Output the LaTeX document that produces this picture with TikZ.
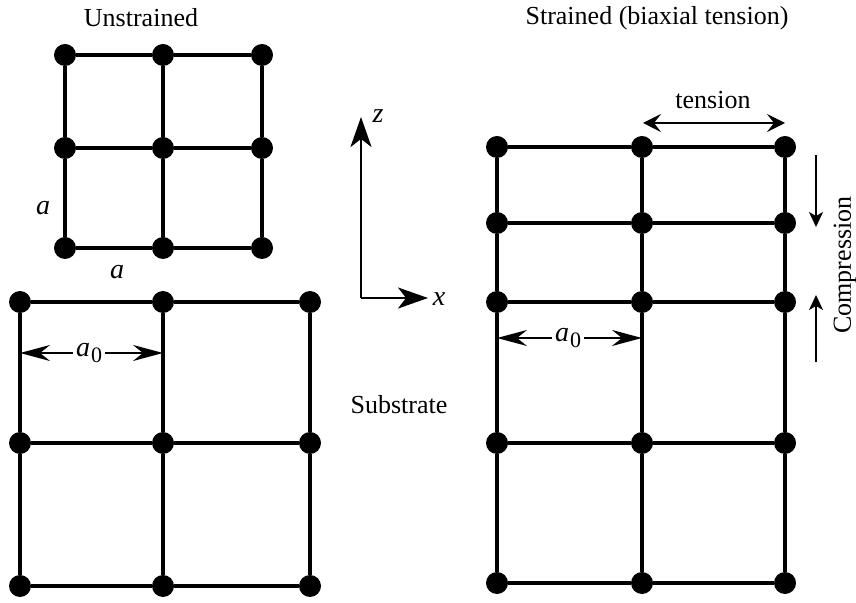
\documentclass[tikz,border=0pt]{standalone}
\usepackage{fontspec}
\setmainfont{Liberation Serif}
\usetikzlibrary{arrows.meta}
\begin{document}
\begin{tikzpicture}[x=0.5pt,y=-0.5pt,
  dot/.style={circle,fill=black,inner sep=0pt,minimum size=11pt},
  gridline/.style={line width=1.6pt},
  lbl/.style={font=\fontsize{13}{15}\selectfont, inner sep=1pt},
  ital/.style={font=\fontsize{14}{16}\selectfont\itshape, inner sep=1.5pt},
  axisarrow/.style={line width=1.2pt,-{Stealth[length=15pt,width=10.5pt,inset=4pt]}},
  dimarrow/.style={line width=0.9pt,-{Stealth[length=15pt,width=8pt,inset=5pt]}},
  tensarrow/.style={line width=0.9pt,{Stealth[length=9pt,width=9pt,inset=3.5pt]}-{Stealth[length=9pt,width=9pt,inset=3.5pt]}},
  comparrow/.style={line width=0.8pt,-{Stealth[length=7.5pt,width=7pt,inset=2pt]}}]
\useasboundingbox (0,0) rectangle (856,603);

% Unstrained lattice
\foreach \r/\y in {1/55,2/148,3/248}
  \foreach \c/\x in {1/65,2/163,3/262}
    \node[dot] (u\r\c) at (\x,\y) {};
\foreach \r in {1,2,3} \draw[gridline] (u\r1) -- (u\r2) -- (u\r3);
\foreach \c in {1,2,3} \draw[gridline] (u1\c) -- (u2\c) -- (u3\c);

% Substrate lattice
\foreach \r/\y in {1/302,2/443,3/586}
  \foreach \c/\x in {1/20,2/163,3/310}
    \node[dot] (b\r\c) at (\x,\y) {};
\foreach \r in {1,2,3} \draw[gridline] (b\r1) -- (b\r2) -- (b\r3);
\foreach \c in {1,2,3} \draw[gridline] (b1\c) -- (b2\c) -- (b3\c);

% Strained lattice
\foreach \r/\y in {1/147,2/223,3/302,4/443,5/583}
  \foreach \c/\x in {1/497,2/642,3/785}
    \node[dot] (s\r\c) at (\x,\y) {};
\foreach \r in {1,2,3,4,5} \draw[gridline] (s\r1) -- (s\r2) -- (s\r3);
\foreach \c in {1,2,3} \draw[gridline] (s1\c) -- (s2\c) -- (s3\c) -- (s4\c) -- (s5\c);

% Titles and labels
\node[lbl] (tU) at (141,18) {Unstrained};
\node[lbl] (tS) at (657,18) {Strained (biaxial tension)};
\node[lbl] (tsub) at (399,405) {Substrate};
\node[lbl] (tten) at (713,100) {tension};
\node[lbl,rotate=90] (tcomp) at (845,265) {Compression};
\node[ital] (aL) at (43,208) {a};
\node[ital] (aB) at (117,272) {a};

% a0 on substrate
\coordinate (bl) at (20,353);
\coordinate (br) at (163,353);
\node[ital] (a0b) at (89,353) {a\kern0.5pt\raisebox{-0.45ex}{\upshape\fontsize{11}{12}\selectfont 0}};
\draw[dimarrow] (a0b.west) -- (bl);
\draw[dimarrow] (a0b.east) -- (br);

% a0 on strained film
\coordinate (sl) at (497,338);
\coordinate (sr) at (642,338);
\node[ital] (a0s) at (568,338) {a\kern0.5pt\raisebox{-0.45ex}{\upshape\fontsize{11}{12}\selectfont 0}};
\draw[dimarrow] (a0s.west) -- (sl);
\draw[dimarrow] (a0s.east) -- (sr);

% tension arrow
\coordinate (tl) at (643,123);
\coordinate (tr) at (785,123);
\draw[tensarrow] (tl) -- (tr);

% compression arrows
\coordinate (cd1) at (816,155);
\coordinate (cd2) at (816,227);
\coordinate (cu1) at (816,362);
\coordinate (cu2) at (816,295);
\draw[comparrow] (cd1) -- (cd2);
\draw[comparrow] (cu1) -- (cu2);

% axes
\coordinate (O) at (361,298);
\coordinate (Z) at (361,117);
\coordinate (X) at (428,298);
\draw[axisarrow] (O) -- (Z);
\draw[axisarrow] (O) -- (X);
\node[ital] (zl) at (378,116) {z};
\node[ital] (xl) at (439,299) {x};
\end{tikzpicture}
\end{document}
